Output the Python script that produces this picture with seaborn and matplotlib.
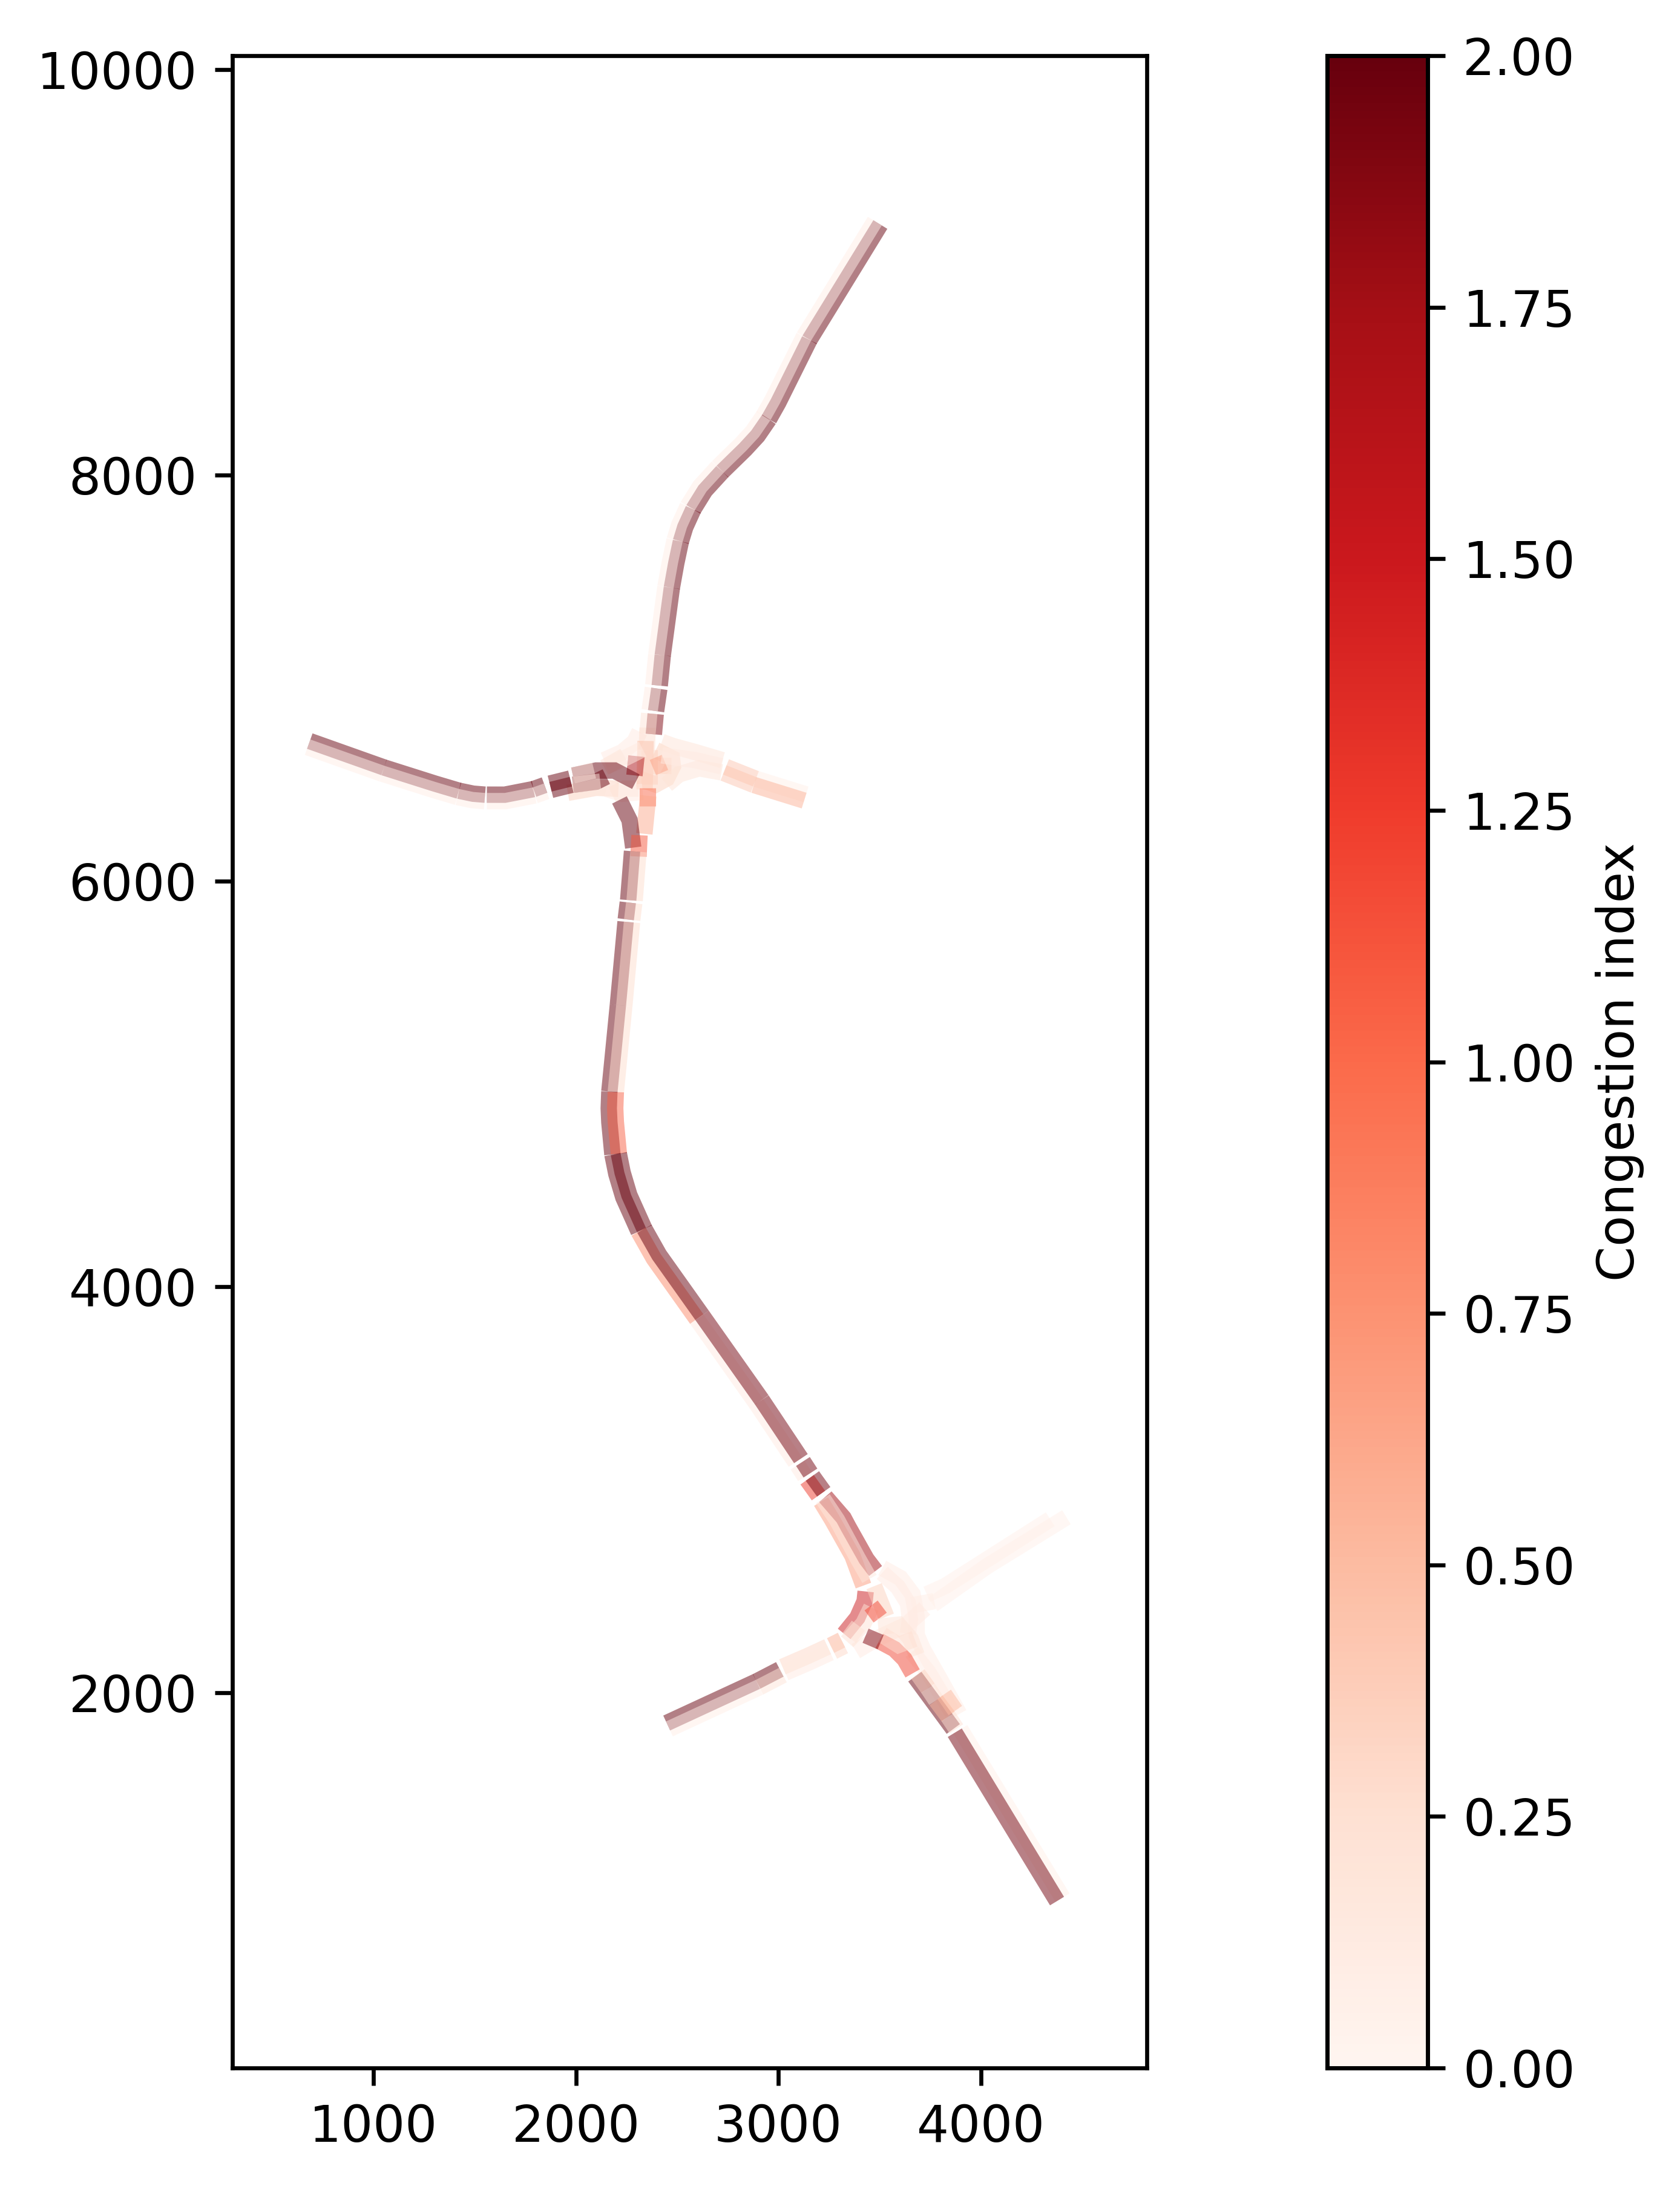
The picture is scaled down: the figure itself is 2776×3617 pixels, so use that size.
import numpy as np
import pandas as pd
import seaborn as sns
import matplotlib
matplotlib.use("Agg")
import matplotlib.pyplot as plt
from matplotlib.colors import Normalize
from matplotlib.cm import ScalarMappable

sns.set_style("ticks", rc={"axes.edgecolor": "black", "xtick.color": "black", "ytick.color": "black",
                           "text.color": "black", "axes.labelcolor": "black",
                           "xtick.direction": "out", "ytick.direction": "out"})
plt.rcParams["font.family"] = ["DejaVu Sans"]

NA = float("nan")

# Corridor roads: node coordinates, node index of each section end, and the index of both lanes
north_x = [3490, 3140, 2985, 2940, 2885, 2825, 2712, 2625, 2566, 2525, 2503, 2480, 2458, 2413, 2398, 2396, 2380, 2378, 2369]
north_y = [9245, 8676, 8365, 8285, 8205, 8140, 8030, 7935, 7840, 7750, 7678, 7570, 7448, 7115, 6965, 6950, 6840, 6825, 6725]
north_cuts = [0, 1, 3, 6, 8, 10, 12, 13, 14, 15, 16, 17, 18]
north_first = [2, 2, 2, 2, 2, 2, 2, 2, NA, 2, NA, 1.9]
north_second = [.08, .08, .08, .08, .08, .08, .08, .1, NA, .1, NA, .2]

south_x = [2293, 2274, 2272, 2262, 2261, 2223, 2181, 2178, 2181, 2196, 2215, 2249, 2324, 2398, 2610, 2905, 3098, 3108, 3145, 3155, 3211]
south_y = [6146, 5905, 5893, 5810, 5798, 5387, 4961, 4880, 4812, 4654, 4560, 4446, 4279, 4148, 3850, 3433, 3144, 3130, 3073, 3058, 2980]
south_cuts = [0, 1, 2, 3, 4, 5, 6, 9, 12, 14, 15, 16, 17, 18, 19, 20]
south_first = [2, NA, 2, NA, 2, 2, 2, 2, .8, .12, .12, NA, .12, NA, 1.25]
south_second = [.27, NA, .27, NA, .27, .27, 1.05, 2, 2, 1.95, 1.95, NA, 1.95, NA, 1.95]

west_x = [680, 1047, 1300, 1418, 1490, 1550, 1560, 1650, 1794, 1850, 1874, 1975]
west_y = [6675, 6545, 6465, 6430, 6415, 6410, 6410, 6410, 6438, 6458, 6465, 6490]
west_cuts = [0, 1, 3, 5, 6, 8, 9, 10, 11]
west_first = [2, 2, 2, NA, 2, 2, NA, 2]
west_second = [.08, .08, .08, NA, .08, .08, NA, 2]

southeast_x = [3885, 4390]
southeast_y = [1810, 980]
southeast_cuts = [0, 1]
southeast_first = [.06]
southeast_second = [1.95]

southwest_x = [2455, 2899, 3015, 3027, 3150, 3250, 3265, 3319]
southwest_y = [1835, 2040, 2100, 2112, 2165, 2211, 2217, 2244]
southwest_cuts = [0, 1, 2, 3, 5, 6, 7]
southwest_first = [2, 2, NA, .3, NA, .55]
southwest_second = [.08, .2, NA, .12, NA, .3]

east_x = [2735, 2884, 3132]
east_y = [6548, 6489, 6412]
east_cuts = [0, 1, 2]
east_first = [.42, .06]
east_second = [.42, .55]

# Junction link roads, in drawing order
link_x = [
    [2314, 2289, 2229, 2139], [2239, 2140], [2179, 2239, 2309], [1960, 2100, 2210],
    [2354, 2350], [2344, 2339], [2364, 2364], [2310, 2470],
    [2394, 2474, 2479, 2449, 2394, 2309], [2380, 2440],
    [2299, 2289], [2724, 2589, 2479, 2424], [2719, 2609, 2509, 2449], [2719, 2589, 2424],
    [2330, 2230, 2150], [2330, 2230, 2150],
    [1985, 2100, 2190, 2296], [1985, 2100, 2150], [1985, 2090], [1985, 2120],
    [2354, 2354], [2357, 2338], [2215, 2265, 2283], [2314, 2309],
    [3211, 3265, 3366, 3420], [3232, 3322, 3346, 3435, 3480], [3220, 3290, 3390, 3450],
    [3513, 3603, 3663, 3683, 3683, 3713, 3793, 3893], [3513, 3590, 3640, 3650, 3640],
    [3660, 3770], [3660, 3740, 3860], [3383, 3483, 3633, 3723],
    [3733, 3823, 4343], [3763, 4033, 4423],
    [3431, 3426, 3390, 3325], [3459, 3420, 3340], [3395, 3350], [3473, 3533], [3458, 3503],
    [3493, 3593, 3653, 3683], [3663, 3623, 3573, 3498], [3513, 3593, 3673], [3483, 3453],
    [3674, 3864], [3689, 3739], [3739, 3779], [3779, 3839], [3839, 3879], [3819, 3874],
]
link_y = [
    [6736, 6686, 6636, 6596], [6616, 6560], [6426, 6456, 6456], [6435, 6460, 6455],
    [6756, 6646], [6691, 6451], [6646, 6476], [6570, 6570],
    [6646, 6606, 6566, 6506, 6476, 6506], [6560, 6585],
    [6616, 6521], [6596, 6636, 6666, 6686], [6536, 6556, 6526, 6476], [6566, 6596, 6620],
    [6650, 6600, 6565], [6440, 6430, 6455],
    [6520, 6545, 6545, 6490], [6475, 6490, 6515], [6520, 6545], [6475, 6490],
    [6459, 6370], [6420, 6233], [6400, 6300, 6165], [6226, 6121],
    [2941, 2852, 2673, 2527], [2965, 2861, 2816, 2658, 2599], [2955, 2850, 2665, 2560],
    [2614, 2564, 2484, 2374, 2284, 2214, 2074, 1894], [2590, 2520, 2440, 2360, 2290],
    [2430, 2450], [2200, 2100, 1900], [2204, 2264, 2334, 2414],
    [2484, 2524, 2854], [2434, 2624, 2864],
    [2498, 2450, 2369, 2289], [2420, 2340, 2250], [2330, 2270], [2524, 2374], [2429, 2369],
    [2324, 2334, 2264, 2184], [2094, 2164, 2214, 2254], [2284, 2234, 2264], [2299, 2229],
    [2078, 1820], [2091, 2021], [2021, 1961], [1961, 1881], [1881, 1821], [1991, 1911],
]
link_value = [
    .12, .2, .2, .35,
    .25, .45, .35, .3,
    .35, .65,
    1.7, .2, .2, .12,
    .12, .12,
    2, 2, .15, .15,
    1.0, .6, 2, 1.1,
    .7, 1.75, .15,
    .1, .12,
    .08, .1, .12,
    .05, .05,
    1.5, .22, .2, .35, 1.2,
    .2, 1.2, .25, 1.9,
    2, .35, .2, .5, .25, .5,
]

# Axis and colour bar settings
x_limits = (303, 4820)
y_limits = (149, 10069)
x_ticks = [1000, 2000, 3000, 4000]
y_ticks = [2000, 4000, 6000, 8000, 10000]
bar_limits = (0, 2)
bar_ticks = [0, .25, .5, .75, 1, 1.25, 1.5, 1.75, 2]
bar_label = "Congestion index"

LANE_SHIFT = 16
LANE_WIDTH = 3.25
LANE_ALPHA = .5

cmap = plt.get_cmap("Reds")
norm = Normalize(*bar_limits)


def shifted(xs, ys, shift):
    xs, ys = np.asarray(xs, float), np.asarray(ys, float)
    if shift == 0:
        return xs, ys
    dx, dy = np.gradient(xs), np.gradient(ys)
    length = np.hypot(dx, dy)
    return xs - dy / length * shift, ys + dx / length * shift


def draw_lane(ax, xs, ys, value, shift=0):
    px, py = shifted(xs, ys, shift)
    frame = pd.DataFrame({"x": px, "y": py, "order": np.arange(len(px))})
    sns.lineplot(data=frame, x="x", y="y", sort=False, estimator=None, legend=False, ax=ax,
                 color=cmap(norm(value)), alpha=LANE_ALPHA, linewidth=LANE_WIDTH,
                 solid_capstyle="butt", solid_joinstyle="miter")


def draw_road(ax, xs, ys, cuts, first, second, first_shift):
    sx, sy = shifted(xs, ys, first_shift)
    ox, oy = shifted(xs, ys, -first_shift)
    for a, b, v1, v2 in zip(cuts[:-1], cuts[1:], first, second):
        if np.isnan(v1):
            continue
        draw_lane(ax, sx[a:b + 1], sy[a:b + 1], v1)
        draw_lane(ax, ox[a:b + 1], oy[a:b + 1], v2)


fig = plt.figure(figsize=(2776 / 600, 3617 / 600), dpi=600)
ax = fig.add_axes([384 / 2776, 1 - 3417 / 3617, 1511 / 2776, 3325 / 3617])
cax = fig.add_axes([2193 / 2776, 1 - 3417 / 3617, 166 / 2776, 3325 / 3617])

FIRST_LINKS = 24
for i in range(FIRST_LINKS):
    draw_lane(ax, link_x[i], link_y[i], link_value[i])
draw_road(ax, north_x, north_y, north_cuts, north_first, north_second, LANE_SHIFT)
draw_road(ax, south_x, south_y, south_cuts, south_first, south_second, -LANE_SHIFT)
draw_road(ax, west_x, west_y, west_cuts, west_first, west_second, LANE_SHIFT)
draw_road(ax, east_x, east_y, east_cuts, east_first, east_second, LANE_SHIFT)
draw_road(ax, southwest_x, southwest_y, southwest_cuts, southwest_first, southwest_second, LANE_SHIFT)
draw_road(ax, southeast_x, southeast_y, southeast_cuts, southeast_first, southeast_second, LANE_SHIFT)
for i in range(FIRST_LINKS, len(link_x)):
    draw_lane(ax, link_x[i], link_y[i], link_value[i])

ax.set_xlim(*x_limits)
ax.set_ylim(*y_limits)
ax.set_xticks(x_ticks)
ax.set_yticks(y_ticks)
ax.set_xlabel("")
ax.set_ylabel("")
ax.tick_params(labelsize=10, width=.8, length=3.5)

bar = fig.colorbar(ScalarMappable(norm=norm, cmap=cmap), cax=cax)
bar.set_ticks(bar_ticks)
bar.set_ticklabels([f"{t:.2f}" for t in bar_ticks])
bar.ax.tick_params(labelsize=10, width=.8, length=3.5)
bar.set_label(bar_label, fontsize=10)
for sp in list(ax.spines.values()) + list(cax.spines.values()):
    sp.set_visible(True)
    sp.set_linewidth(.8)
    sp.set_color("black")

fig.savefig("out.png", dpi=600)
